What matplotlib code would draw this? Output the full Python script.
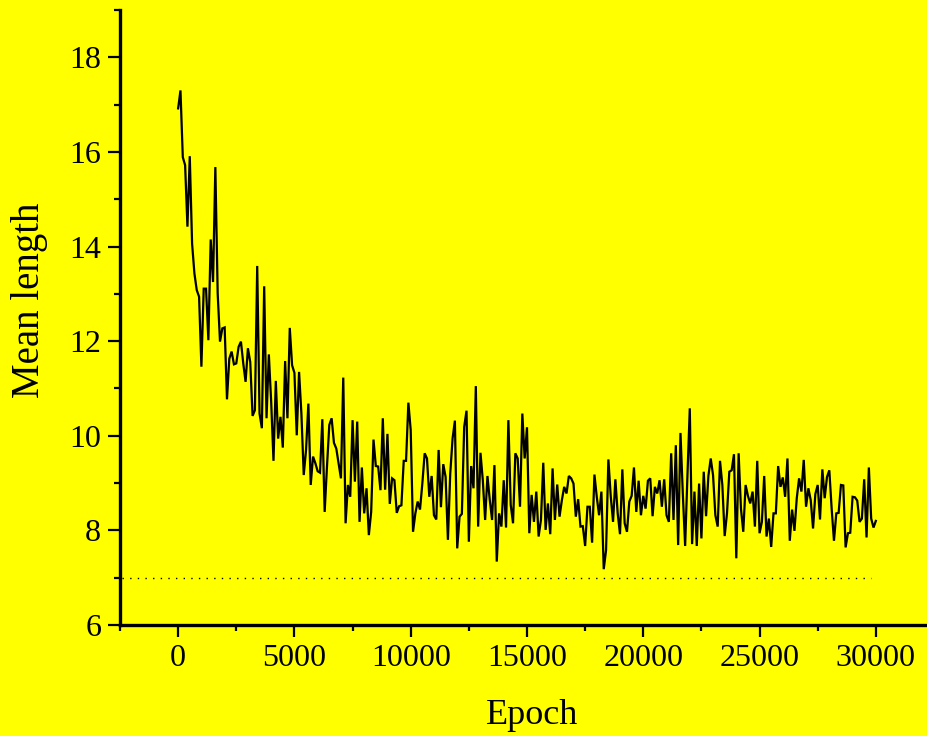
import matplotlib
matplotlib.use("Agg")
import matplotlib.pyplot as plt
from matplotlib.ticker import MultipleLocator
import numpy as np

# Epochs: every 100 from 0 to 30000
epoch_step = 100
epoch_max = 30000

mean_length = [
    16.92, 17.30, 15.89, 15.72, 14.42, 15.91, 14.06, 13.43, 13.08, 12.94,
    11.46, 13.11, 13.11, 12.02, 14.15, 13.25, 15.68, 13.01, 11.99, 12.27,
    12.29, 10.77, 11.63, 11.78, 11.51, 11.53, 11.88, 11.99, 11.53, 11.14,
    11.85, 11.56, 10.42, 10.54, 13.59, 10.47, 10.16, 13.16,
    10.37, 11.72, 10.72, 9.47, 11.16, 9.94, 10.40, 9.75, 11.58, 10.37,
    12.28, 11.49, 11.33, 10.01, 11.35, 10.47, 9.17, 9.70, 10.68, 8.96,
    9.56, 9.42, 9.25, 9.22, 10.35, 8.39, 9.35, 10.23, 10.37, 9.85,
    9.73, 9.42, 9.10, 11.23, 8.15, 8.96, 8.71, 10.33, 9.03,
    10.30, 8.18, 9.33, 8.36, 8.89, 7.90, 8.39, 9.92, 9.36, 9.35,
    8.85, 10.37, 8.86, 10.04, 8.56, 9.10, 9.06, 8.37, 8.51, 8.53,
    9.47, 9.47, 10.70, 10.12, 7.97, 8.36, 8.61, 8.44, 8.99, 9.63,
    9.52, 8.71, 9.15, 8.32, 8.23, 9.70, 8.49, 9.40,
    9.13, 7.80, 9.20, 9.94, 10.32, 7.62, 8.29, 8.35, 10.19, 10.53,
    7.76, 9.36, 8.89, 11.05, 8.08, 9.64, 9.06, 8.22, 9.15, 8.64,
    8.22, 9.38, 7.34, 8.36, 8.08, 9.06, 8.06, 10.33, 8.54, 8.15,
    9.63, 9.52, 8.50, 10.47, 9.52, 10.18, 7.94, 8.75, 8.18,
    8.82, 7.87, 8.22, 9.43, 8.01, 8.57, 7.92, 9.31, 8.22, 8.97,
    8.29, 8.64, 8.92, 8.78, 9.15, 9.10, 8.99, 8.29, 8.66, 8.08,
    8.09, 7.67, 8.50, 8.50, 7.74, 9.18, 8.71, 8.32, 8.82, 7.18,
    7.58, 9.50, 8.73, 8.18, 9.08, 8.36, 7.92, 9.29, 8.15,
    7.97, 8.61, 8.73, 9.33, 8.39, 9.05, 8.32, 8.73, 8.46, 9.05,
    9.10, 8.30, 8.92, 8.78, 9.06, 8.50, 9.08, 8.32, 8.18, 9.63,
    8.22, 9.80, 7.69, 10.06, 8.78, 7.67, 9.17, 10.58, 7.71, 8.82,
    7.67, 8.99, 7.83, 9.24, 8.30, 9.15, 9.52, 9.17,
    8.32, 8.08, 9.47, 8.96, 7.88, 8.36, 9.24, 9.27, 9.61, 7.41,
    9.63, 8.46, 7.97, 8.96, 8.73, 8.57, 8.82, 8.08, 9.47, 7.94,
    8.18, 9.15, 7.87, 8.25, 7.65, 8.36, 8.36, 9.36, 8.92, 9.12,
    8.71, 9.52, 7.78, 8.44, 7.99, 8.68, 9.10, 8.82, 9.49,
    8.50, 8.89, 8.64, 8.04, 8.77, 8.96, 8.23, 9.29, 8.68, 9.13,
    9.27, 8.46, 7.78, 8.36, 8.37, 8.96, 8.95, 7.64, 7.94, 7.95,
    8.71, 8.70, 8.63, 8.18, 8.25, 9.08, 7.85, 9.33, 8.25, 8.06,
    8.20,
]
epochs = np.arange(len(mean_length)) * epoch_step

# reference (dotted) level
ref_level = 7
ref_x = [-2400, 29800]

x_ticks = [0, 5000, 10000, 15000, 20000, 25000, 30000]
y_ticks = [6, 8, 10, 12, 14, 16, 18]

yellow = "#ffff00"
plt.rcParams["font.family"] = ["Liberation Serif", "DejaVu Serif"]

fig = plt.figure(figsize=(9.27, 7.36), dpi=100, facecolor=yellow)
ax = fig.add_axes([120 / 927, (736 - 625) / 736, 807 / 927, 615 / 736])
ax.set_facecolor(yellow)

ax.plot(epochs, mean_length, color="black", lw=1.6, solid_joinstyle="miter")
ax.plot(ref_x, [ref_level, ref_level], color="black", lw=1.0,
        linestyle=(0, (1, 4.5)))

ax.set_xlim(-2500, 32200)
ax.set_ylim(6, 19)
ax.set_xticks(x_ticks)
ax.set_yticks(y_ticks)
ax.xaxis.set_minor_locator(MultipleLocator(2500))
ax.yaxis.set_minor_locator(MultipleLocator(1))

for s in ["top", "right"]:
    ax.spines[s].set_visible(False)
for s in ["left", "bottom"]:
    ax.spines[s].set_linewidth(2.4)

ax.tick_params(axis="both", which="major", direction="out", length=8.5,
               width=1.6, labelsize=23, pad=5)
ax.tick_params(axis="both", which="minor", direction="out", length=4.5,
               width=1.6)

ax.set_xlabel("Epoch", fontsize=26)
ax.set_ylabel("Mean length", fontsize=28)
ax.xaxis.set_label_coords(0.511, -0.12)
ax.yaxis.set_label_coords(-0.089, 0.528)

fig.savefig("out.png", dpi=100, facecolor=yellow)
